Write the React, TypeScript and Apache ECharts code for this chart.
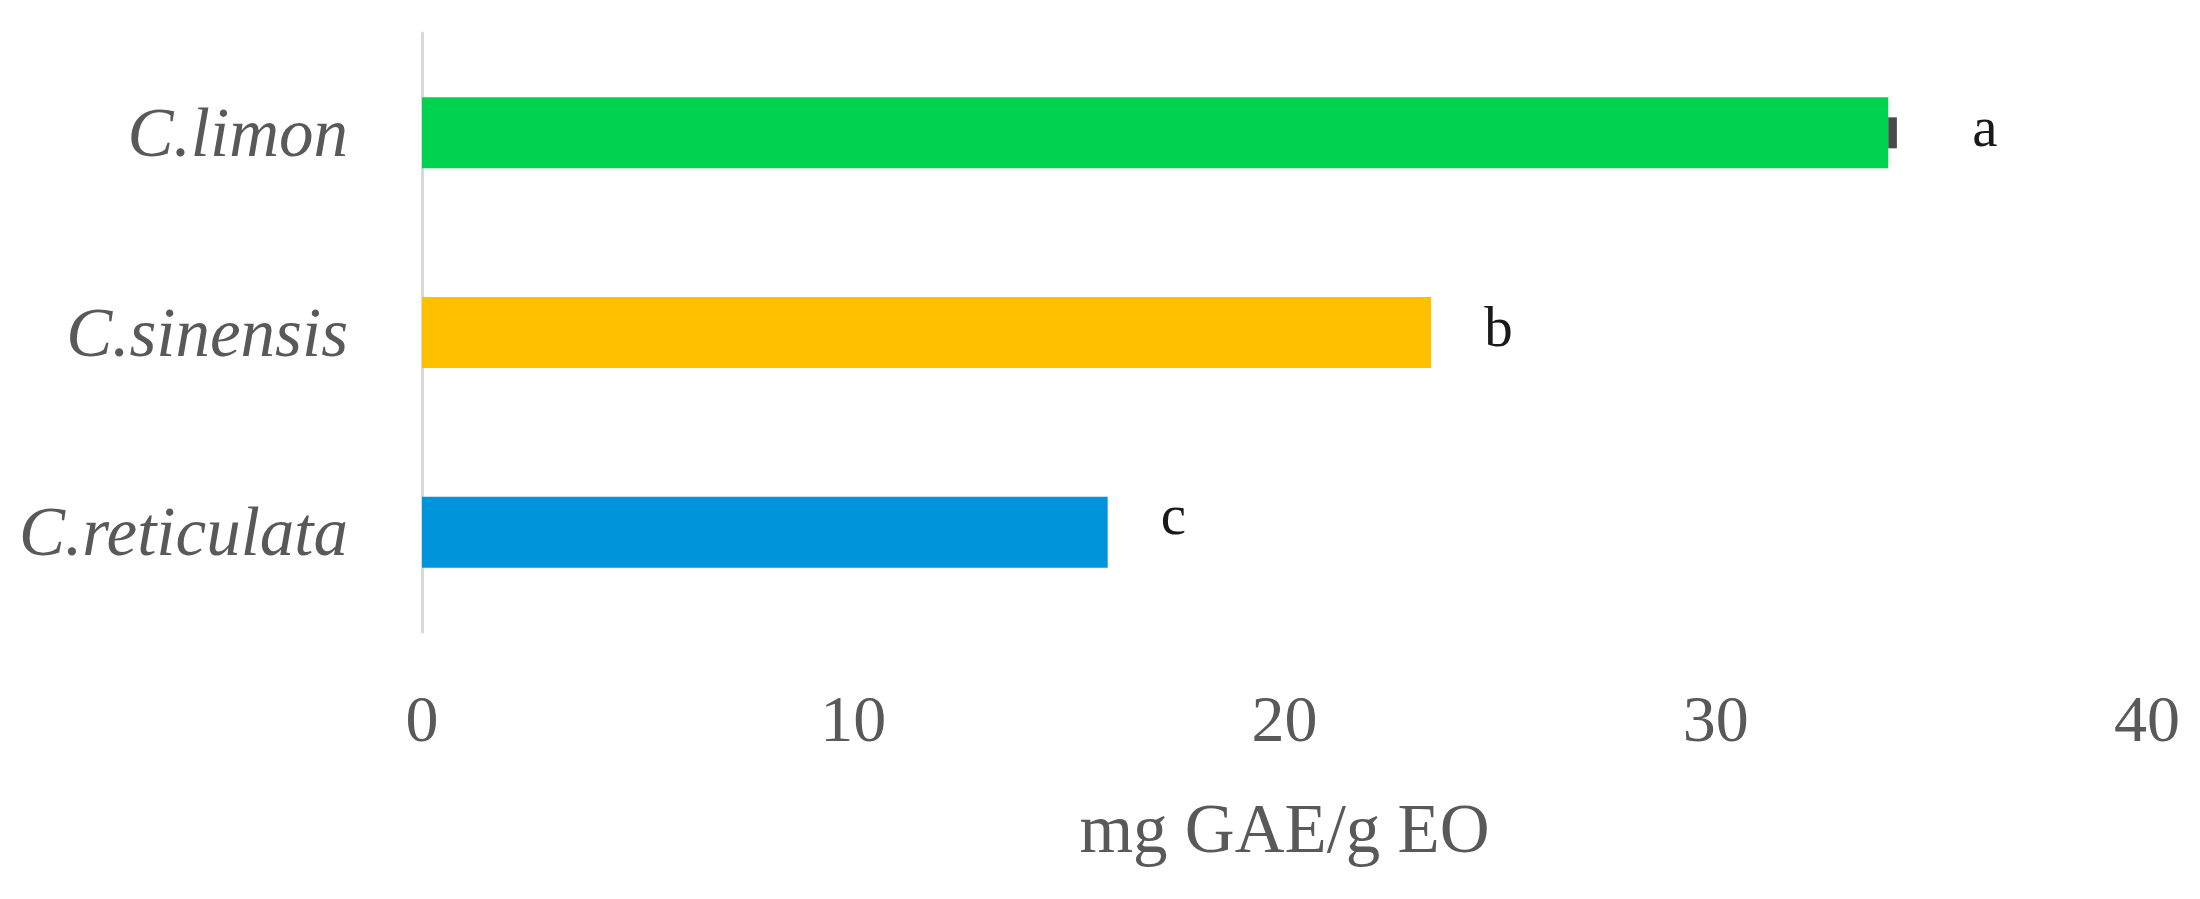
import React, { useEffect, useRef } from "react";
import * as echarts from "echarts";

const categories = ["C.limon", "C.sinensis", "C.reticulata"];
const values = [34.0, 23.4, 15.9];
const errors = [0.2, 0, 0];
const letters = ["a", "b", "c"];
const barColors = ["#00D24F", "#FFC000", "#0095DA"];
const xTicks = [0, 10, 20, 30, 40];
const xTitle = "mg GAE/g EO";

export default function App() {
  const ref = useRef<HTMLDivElement>(null);
  useEffect(() => {
    if (!ref.current) return;
    const chart = echarts.init(ref.current, null, { renderer: "svg" });
    const errData = values
      .map((v, i) => [v, i, errors[i]])
      .filter((d) => d[2] > 0);
    const labelOffsets = [[0, -6], [0, -6], [0, -18]];
    chart.setOption({
      animation: false,
      backgroundColor: "#ffffff",
      grid: {
        left: 422,
        right: 53,
        top: 33,
        bottom: 267,
        containLabel: false,
        outerBoundsMode: "none",
      },
      xAxis: {
        type: "value",
        min: xTicks[0],
        max: xTicks[xTicks.length - 1],
        interval: 10,
        axisLine: { show: false },
        axisTick: { show: false },
        splitLine: { show: false },
        axisLabel: {
          color: "#595959",
          fontFamily: "Liberation Serif",
          fontSize: 66,
          margin: 53,
        },
        name: xTitle,
        nameLocation: "middle",
        nameGap: 162,
        nameTextStyle: {
          color: "#595959",
          fontFamily: "Liberation Serif",
          fontSize: 69,
        },
      },
      yAxis: {
        type: "category",
        data: categories,
        inverse: true,
        axisLine: { show: true, lineStyle: { color: "#D9D9D9", width: 3 } },
        axisTick: { show: false },
        splitLine: { show: false },
        axisLabel: {
          color: "#595959",
          fontFamily: "Liberation Serif",
          fontStyle: "italic",
          fontSize: 69,
          margin: 74,
        },
      },
      series: [
        {
          type: "bar",
          barWidth: 71,
          data: values.map((v, i) => ({
            value: v,
            itemStyle: { color: barColors[i] },
            label: { distance: errors[i] > 0 ? 84 : 53, offset: labelOffsets[i] },
          })),
          label: {
            show: true,
            position: "right",
            formatter: (p: any) => letters[p.dataIndex],
            color: "#1a1a1a",
            fontFamily: "Liberation Serif",
            fontSize: 57,
          },
          z: 2,
        },
        {
          type: "custom",
          data: errData,
          z: 3,
          renderItem: (params: any, api: any) => {
            const v = api.value(0);
            const idx = api.value(1);
            const e = api.value(2);
            const p0 = api.coord([v, idx]);
            const p1 = api.coord([v + e, idx]);
            const h = 31;
            return {
              type: "rect",
              shape: { x: p0[0], y: p0[1] - h / 2, width: Math.max(p1[0] - p0[0], 3), height: h },
              style: { fill: "#4a4a4a" },
            };
          },
        },
      ],
    });
    return () => chart.dispose();
  }, []);
  return (
    <div
      ref={ref}
      style={{ position: "absolute", left: 0, top: 0, width: 2200, height: 899 }}
    />
  );
}
